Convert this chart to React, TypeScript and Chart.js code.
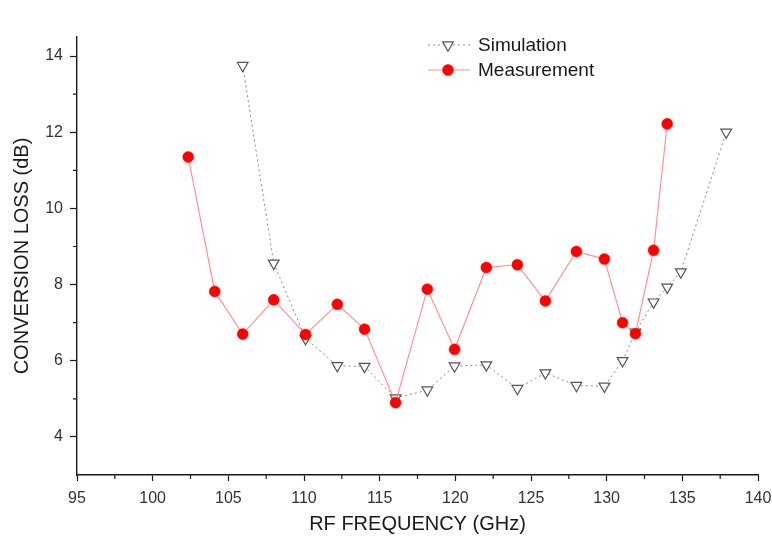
import React, { useEffect, useRef } from "react";
import { Chart, registerables } from "chart.js";
Chart.register(...registerables);

const measFreq = [102.35, 104.1, 105.95, 108.0, 110.1, 112.2, 114.0, 116.05, 118.15, 119.95, 122.05, 124.1, 125.95, 128.0, 129.85, 131.05, 131.9, 133.1, 134.0];
const measLoss = [11.35, 7.82, 6.7, 7.6, 6.69, 7.48, 6.83, 4.9, 7.88, 6.3, 8.45, 8.52, 7.57, 8.87, 8.67, 7.0, 6.71, 8.9, 12.22];
const simFreq = [105.95, 108.0, 110.1, 112.2, 114.0, 116.05, 118.15, 119.95, 122.05, 124.1, 125.95, 128.0, 129.85, 131.05, 131.9, 133.1, 134.0, 134.9, 137.9];
const simLoss = [13.75, 8.56, 6.58, 5.87, 5.85, 5.02, 5.23, 5.86, 5.89, 5.27, 5.68, 5.35, 5.33, 6.0, 6.75, 7.54, 7.93, 8.33, 12.0];

const xTicks = [95, 100, 105, 110, 115, 120, 125, 130, 135, 140];
const xMinor = [97.5, 102.5, 107.5, 112.5, 117.5, 122.5, 127.5, 132.5, 137.5];
const yTicks = [4, 6, 8, 10, 12, 14];
const yMinor = [5, 7, 9, 11, 13];

const FONT = "Arial, 'Liberation Sans', sans-serif";
const AXIS = "#1a1a1a";

const minorTicks = {
  id: "minorTicks",
  afterDraw(chart: any) {
    const { ctx, scales } = chart;
    const xs = scales.x, ys = scales.y;
    ctx.save();
    ctx.strokeStyle = AXIS;
    ctx.lineWidth = 1.2;
    ctx.beginPath();
    xMinor.forEach((v) => {
      const px = xs.getPixelForValue(v);
      ctx.moveTo(px, xs.top);
      ctx.lineTo(px, xs.top + 4);
    });
    yMinor.forEach((v) => {
      const py = ys.getPixelForValue(v);
      ctx.moveTo(ys.right, py);
      ctx.lineTo(ys.right - 4, py);
    });
    ctx.stroke();
    ctx.restore();
  },
};

const legendPlugin = {
  id: "customLegend",
  afterDraw(chart: any) {
    const { ctx } = chart;
    const items = [
      { ds: chart.data.datasets[1], y: 45 },
      { ds: chart.data.datasets[0], y: 70 },
    ];
    ctx.save();
    items.forEach(({ ds, y }) => {
      const x0 = 428, x1 = 470, xm = 448;
      ctx.beginPath();
      ctx.strokeStyle = ds.borderColor;
      ctx.lineWidth = ds.borderWidth;
      ctx.setLineDash(ds.borderDash || []);
      ctx.moveTo(x0, y);
      ctx.lineTo(x1, y);
      ctx.stroke();
      ctx.setLineDash([]);
      ctx.beginPath();
      ctx.fillStyle = ds.pointBackgroundColor;
      ctx.strokeStyle = ds.pointBorderColor;
      ctx.lineWidth = ds.pointBorderWidth;
      if (ds.pointStyle === "triangle") {
        const r = ds.pointRadius;
        ctx.moveTo(xm, y + r);
        ctx.lineTo(xm + r * Math.sin(Math.PI / 3), y - r / 2);
        ctx.lineTo(xm - r * Math.sin(Math.PI / 3), y - r / 2);
        ctx.closePath();
      } else {
        ctx.arc(xm, y, ds.pointRadius, 0, Math.PI * 2);
      }
      ctx.fill();
      ctx.stroke();
      ctx.fillStyle = "#1a1a1a";
      ctx.font = `19px ${FONT}`;
      ctx.textBaseline = "middle";
      ctx.textAlign = "left";
      ctx.fillText(ds.label, 478, y + 1);
    });
    ctx.restore();
  },
};

export default function App() {
  const ref = useRef<HTMLCanvasElement | null>(null);
  useEffect(() => {
    if (!ref.current) return;
    const chart = new Chart(ref.current, {
      type: "line",
      data: {
        datasets: [
          {
            label: "Measurement",
            data: measFreq.map((x, i) => ({ x, y: measLoss[i] })),
            borderColor: "rgba(255,120,120,0.8)",
            borderWidth: 1.2,
            pointStyle: "circle",
            pointRadius: 5.5,
            pointBackgroundColor: "#ff0000",
            pointBorderColor: "#ff0000",
            pointBorderWidth: 0.5,
            tension: 0,
          } as any,
          {
            label: "Simulation",
            data: simFreq.map((x, i) => ({ x, y: simLoss[i] })),
            borderColor: "#8a8a8a",
            borderWidth: 1,
            borderDash: [2, 3],
            pointStyle: "triangle",
            pointRotation: 180,
            pointRadius: 6.2,
            pointBackgroundColor: "#ffffff",
            pointBorderColor: "#555555",
            pointBorderWidth: 1.2,
            tension: 0,
          } as any,
        ],
      },
      options: {
        animation: false,
        responsive: false,
        maintainAspectRatio: false,
        layout: { padding: { top: 37, right: 14, left: 0, bottom: 0 } },
        plugins: { legend: { display: false }, tooltip: { enabled: false } },
        scales: {
          x: {
            type: "linear",
            min: 95,
            max: 140,
            afterBuildTicks: (s: any) => {
              s.ticks = xTicks.map((v) => ({ value: v }));
            },
            afterFit: (s: any) => {
              s.height = 66;
              s.paddingLeft = 0;
              s.paddingRight = 0;
            },
            ticks: {
              color: "#333",
              font: { family: FONT, size: 16 },
              padding: 8,
              maxRotation: 0,
              autoSkip: false,
            },
            grid: { drawOnChartArea: false, drawTicks: true, tickLength: 6, color: AXIS, tickWidth: 1.2 },
            border: { display: true, color: AXIS, width: 1.4 },
            title: {
              display: true,
              text: "RF FREQUENCY (GHz)",
              color: "#1a1a1a",
              font: { family: FONT, size: 20 },
              padding: { top: 0, bottom: 5 },
            },
          },
          y: {
            type: "linear",
            min: 3,
            max: 14.5,
            afterBuildTicks: (s: any) => {
              s.ticks = yTicks.map((v) => ({ value: v }));
            },
            afterFit: (s: any) => {
              s.width = 77;
              s.paddingTop = 0;
              s.paddingBottom = 0;
            },
            ticks: {
              color: "#333",
              font: { family: FONT, size: 16 },
              padding: 7,
              autoSkip: false,
            },
            grid: { drawOnChartArea: false, drawTicks: true, tickLength: 7, color: AXIS, tickWidth: 1.2 },
            border: { display: true, color: AXIS, width: 1.4 },
            title: {
              display: true,
              text: "CONVERSION LOSS (dB)",
              color: "#1a1a1a",
              font: { family: FONT, size: 20 },
              padding: { top: 10, bottom: 0 },
            },
          },
        },
      },
      plugins: [minorTicks, legendPlugin],
    });
    return () => chart.destroy();
  }, []);
  return (
    <div style={{ position: "fixed", left: 0, top: 0, width: 772, height: 541, background: "#fff" }}>
      <canvas ref={ref} width={772} height={541} style={{ display: "block", width: 772, height: 541 }} />
    </div>
  );
}
